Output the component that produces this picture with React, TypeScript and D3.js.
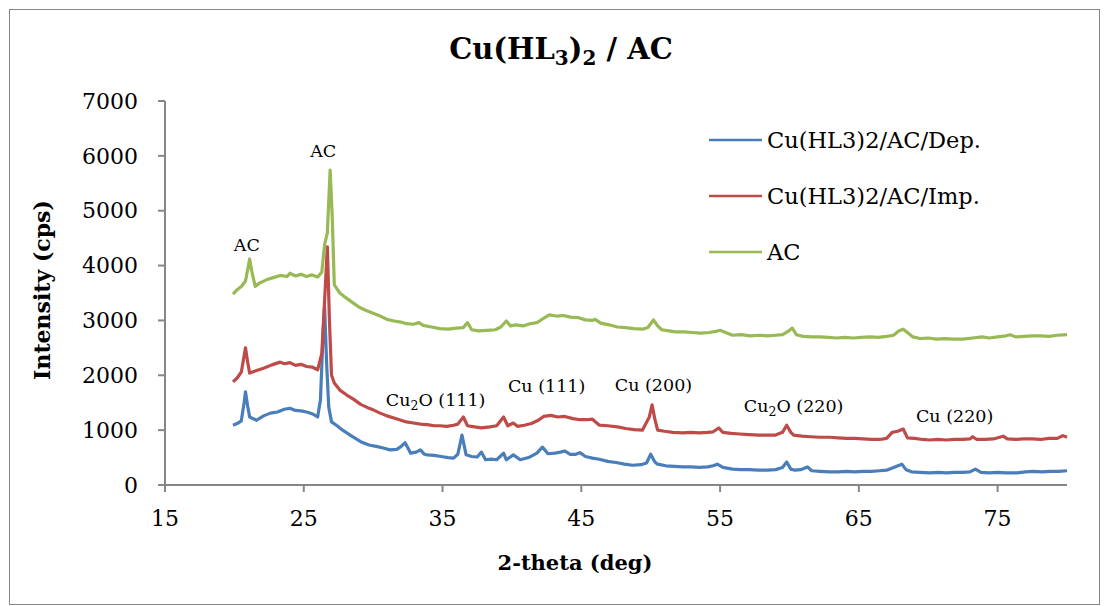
import React from 'react';
import * as d3 from 'd3';

// series: [2-theta (deg), intensity (cps)]
const depData: [number, number][] = [
  [19.9,1090],[20.2,1120],[20.5,1170],[20.7,1500],[20.8,1700],[20.95,1450],[21.1,1240],[21.6,1180],[22.1,1260],[22.6,1310],
  [23.1,1330],[23.6,1380],[24.0,1400],[24.4,1360],[24.8,1350],[25.2,1330],[25.6,1300],[26.0,1240],[26.2,1550],[26.4,2800],
  [26.5,3250],[26.65,2200],[26.8,1420],[27.0,1150],[27.4,1080],[27.8,1000],[28.4,900],[29.1,790],[29.7,730],[30.3,700],
  [30.8,670],[31.2,640],[31.7,650],[32.0,700],[32.3,770],[32.5,680],[32.7,580],[33.1,600],[33.4,640],[33.7,560],
  [33.9,550],[34.4,540],[34.9,520],[35.4,500],[35.8,490],[36.1,560],[36.4,910],[36.7,550],[37.1,520],[37.5,510],
  [37.8,600],[38.1,460],[38.5,470],[38.9,460],[39.4,580],[39.6,460],[40.1,550],[40.6,460],[41.2,500],[41.8,580],
  [42.2,690],[42.6,570],[43.1,580],[43.5,600],[43.8,620],[44.2,560],[44.6,560],[44.9,590],[45.3,520],[45.8,490],
  [46.3,470],[46.9,430],[47.5,410],[48.1,380],[48.7,360],[49.3,370],[49.7,400],[50.0,560],[50.3,420],[50.5,380],
  [51.1,350],[51.7,340],[52.3,330],[52.9,330],[53.5,320],[54.1,330],[54.5,350],[54.8,380],[55.2,320],[55.9,290],
  [56.5,280],[57.1,280],[57.8,270],[58.4,270],[59.0,280],[59.5,320],[59.8,420],[60.1,290],[60.4,270],[60.8,280],
  [61.3,330],[61.6,260],[62.2,250],[62.9,240],[63.5,240],[64.1,250],[64.7,240],[65.3,250],[65.9,250],[66.5,260],
  [67.0,270],[67.6,330],[68.1,380],[68.4,280],[68.8,240],[69.4,230],[70.1,220],[70.7,230],[71.3,220],[71.9,230],
  [72.5,230],[73.0,240],[73.4,290],[73.8,230],[74.4,220],[75.0,230],[75.6,220],[76.4,220],[77.0,240],[77.6,250],
  [78.2,240],[78.8,250],[79.4,250],[80.0,260],
];

const impData: [number, number][] = [
  [19.9,1880],[20.2,1950],[20.5,2060],[20.7,2350],[20.8,2500],[20.95,2250],[21.1,2040],[21.5,2080],[22.1,2130],[22.7,2190],
  [23.3,2240],[23.6,2210],[24.0,2230],[24.4,2180],[24.8,2200],[25.2,2160],[25.6,2150],[26.0,2100],[26.3,2400],[26.55,3600],
  [26.7,4340],[26.85,3000],[27.0,2000],[27.2,1860],[27.6,1730],[28.1,1640],[28.6,1560],[29.1,1470],[29.6,1410],[30.0,1370],
  [30.5,1310],[31.0,1260],[31.5,1220],[32.0,1180],[32.4,1150],[32.9,1130],[33.4,1110],[33.9,1100],[34.4,1080],[34.8,1080],
  [35.3,1070],[35.8,1090],[36.1,1110],[36.5,1240],[36.8,1080],[37.3,1060],[37.8,1040],[38.4,1060],[38.9,1080],[39.4,1240],
  [39.7,1080],[40.1,1130],[40.4,1070],[40.9,1090],[41.4,1120],[41.9,1180],[42.3,1250],[42.8,1270],[43.3,1240],[43.8,1250],
  [44.4,1210],[44.9,1190],[45.4,1190],[45.8,1200],[46.3,1090],[46.9,1080],[47.6,1060],[48.2,1030],[48.8,1010],[49.4,1000],
  [49.9,1240],[50.1,1460],[50.3,1200],[50.5,1000],[51.0,980],[51.6,960],[52.3,950],[52.9,960],[53.5,950],[54.1,960],
  [54.5,970],[54.9,1040],[55.2,960],[55.8,940],[56.4,930],[57.1,920],[57.8,910],[58.4,910],[59.0,910],[59.5,960],
  [59.8,1090],[60.1,960],[60.3,910],[60.9,890],[61.5,880],[62.2,870],[62.9,870],[63.5,860],[64.1,850],[64.7,850],
  [65.3,840],[65.9,830],[66.5,830],[67.0,850],[67.4,960],[67.8,980],[68.2,1020],[68.5,860],[69.0,850],[69.6,830],
  [70.1,820],[70.7,830],[71.3,820],[71.9,830],[72.5,830],[73.0,840],[73.2,880],[73.5,830],[74.1,830],[74.7,840],
  [75.4,890],[75.7,840],[76.3,830],[76.9,840],[77.5,840],[78.1,830],[78.7,850],[79.3,850],[79.7,900],[80.0,870],
];

const acData: [number, number][] = [
  [19.9,3480],[20.2,3560],[20.5,3620],[20.8,3720],[21.0,3980],[21.1,4120],[21.25,3900],[21.5,3620],[21.8,3680],[22.3,3740],
  [22.8,3780],[23.3,3820],[23.8,3800],[24.0,3860],[24.4,3810],[24.8,3840],[25.2,3800],[25.6,3830],[26.0,3790],[26.3,3880],
  [26.5,4380],[26.7,4600],[26.9,5740],[27.05,4900],[27.2,3650],[27.6,3500],[28.0,3420],[28.5,3330],[29.0,3240],[29.5,3180],
  [30.0,3130],[30.5,3080],[31.0,3020],[31.5,2990],[32.0,2970],[32.4,2940],[32.9,2930],[33.3,2960],[33.6,2910],[34.2,2880],
  [34.8,2850],[35.4,2840],[36.0,2860],[36.5,2870],[36.8,2960],[37.1,2830],[37.6,2810],[38.2,2820],[38.8,2830],[39.2,2880],
  [39.6,2990],[39.9,2900],[40.3,2920],[40.8,2900],[41.3,2940],[41.8,2960],[42.3,3040],[42.7,3100],[43.2,3080],[43.7,3090],
  [44.2,3060],[44.8,3050],[45.3,3010],[45.8,3000],[46.0,3020],[46.4,2950],[47.0,2920],[47.6,2880],[48.2,2870],[48.8,2850],
  [49.4,2840],[49.8,2870],[50.2,3010],[50.5,2900],[50.8,2830],[51.3,2810],[51.8,2790],[52.4,2790],[53.0,2780],[53.6,2770],
  [54.2,2780],[54.7,2800],[55.0,2820],[55.4,2780],[55.9,2730],[56.5,2740],[57.2,2720],[57.8,2730],[58.4,2720],[59.0,2730],
  [59.5,2740],[59.9,2800],[60.2,2860],[60.5,2740],[61.0,2710],[61.6,2700],[62.2,2700],[62.8,2690],[63.4,2680],[64.0,2690],
  [64.6,2680],[65.2,2690],[65.8,2700],[66.4,2690],[67.0,2710],[67.5,2730],[67.9,2810],[68.2,2840],[68.5,2780],[68.9,2700],
  [69.4,2670],[70.0,2680],[70.6,2660],[71.2,2670],[71.8,2660],[72.5,2660],[73.2,2680],[73.9,2700],[74.4,2680],[75.0,2700],
  [75.6,2720],[75.9,2740],[76.3,2700],[76.9,2710],[77.5,2720],[78.1,2720],[78.7,2710],[79.3,2730],[80.0,2740],
];

const seriesNames = ['Cu(HL3)2/AC/Dep.', 'Cu(HL3)2/AC/Imp.', 'AC'];
const seriesColors = ['#4a7ebb', '#be4b48', '#98b954'];
const xTicks = [15, 25, 35, 45, 55, 65, 75];
const yTicks = [0, 1000, 2000, 3000, 4000, 5000, 6000, 7000];

// peak labels: [2-theta, cps at baseline, main text, subscript, rest]
const peakLabels: [number, number, string, string, string][] = [
  [20.9, 4265, 'AC', '', ''],
  [26.4, 5980, 'AC', '', ''],
  [34.5, 1440, 'Cu', '2', 'O (111)'],
  [42.5, 1700, 'Cu (111)', '', ''],
  [50.2, 1710, 'Cu (200)', '', ''],
  [60.3, 1330, 'Cu', '2', 'O (220)'],
  [71.9, 1150, 'Cu (220)', '', ''],
];

const font = '"DejaVu Serif", serif';
const axisGray = '#868686';

const App = () => {
  const width = 1109;
  const height = 606;
  const margin = { top: 101, right: 42, bottom: 121, left: 165 };
  const plotW = width - margin.left - margin.right;
  const plotH = height - margin.top - margin.bottom;

  const x = d3.scaleLinear().domain([15, 80]).range([0, plotW]);
  const y = d3.scaleLinear().domain([0, 7000]).range([plotH, 0]);

  const line = d3.line<[number, number]>()
    .x(d => x(d[0]))
    .y(d => y(d[1]));

  const allSeries = [depData, impData, acData];

  return (
    <svg width={width} height={height} style={{ position: 'absolute', left: 0, top: 0, background: '#fff' }}>
      <rect x={9.5} y={9.5} width={1090} height={595} fill="#fff" stroke={axisGray} strokeWidth={1} />

      <text x={561} y={59} textAnchor="middle" fontFamily={font} fontWeight="bold" fontSize={29}>
        Cu(HL<tspan fontSize={20} dy={6}>3</tspan><tspan dy={-6}>)</tspan>
        <tspan fontSize={20} dy={6}>2</tspan><tspan dy={-6}> / AC</tspan>
      </text>

      <g transform={`translate(${margin.left},${margin.top})`}>
        {/* y axis */}
        <line x1={0} x2={0} y1={0} y2={plotH} stroke={axisGray} strokeWidth={2} />
        {yTicks.map(t => (
          <g key={t} transform={`translate(0,${y(t)})`}>
            <line x1={-7} x2={0} stroke={axisGray} strokeWidth={2} />
            <text x={-27} dy="0.35em" textAnchor="end" fontFamily={font} fontSize={22}>{t}</text>
          </g>
        ))}
        {/* x axis */}
        <line x1={0} x2={plotW} y1={plotH} y2={plotH} stroke={axisGray} strokeWidth={2} />
        {xTicks.map(t => (
          <g key={t} transform={`translate(${x(t)},${plotH})`}>
            <line y1={0} y2={7} stroke={axisGray} strokeWidth={2} />
            <text y={41} textAnchor="middle" fontFamily={font} fontSize={22}>{t}</text>
          </g>
        ))}

        {allSeries.map((s, i) => (
          <path key={i} d={line(s) || ''} fill="none" stroke={seriesColors[i]} strokeWidth={3.2} strokeLinejoin="round" />
        ))}

        {peakLabels.map((p, i) => (
          <text key={i} x={x(p[0])} y={y(p[1])} textAnchor="middle" fontFamily={font} fontSize={17.5}>
            {p[2]}
            {p[3] && <tspan fontSize={12.5} dy={4}>{p[3]}</tspan>}
            {p[4] && <tspan dy={-4}>{p[4]}</tspan>}
          </text>
        ))}
      </g>

      <text transform="translate(50,290) rotate(-90)" textAnchor="middle" fontFamily={font} fontWeight="bold" fontSize={22}>
        Intensity (cps)
      </text>
      <text x={575} y={570} textAnchor="middle" fontFamily={font} fontWeight="bold" fontSize={21}>
        2-theta (deg)
      </text>

      {/* legend */}
      {seriesNames.map((name, i) => (
        <g key={name} transform={`translate(709,${140 + i * 56})`}>
          <line x1={0} x2={53} stroke={seriesColors[i]} strokeWidth={2.6} />
          <text x={58} dy="0.35em" fontFamily={font} fontSize={22.5}>{name}</text>
        </g>
      ))}
    </svg>
  );
};

export default App;
